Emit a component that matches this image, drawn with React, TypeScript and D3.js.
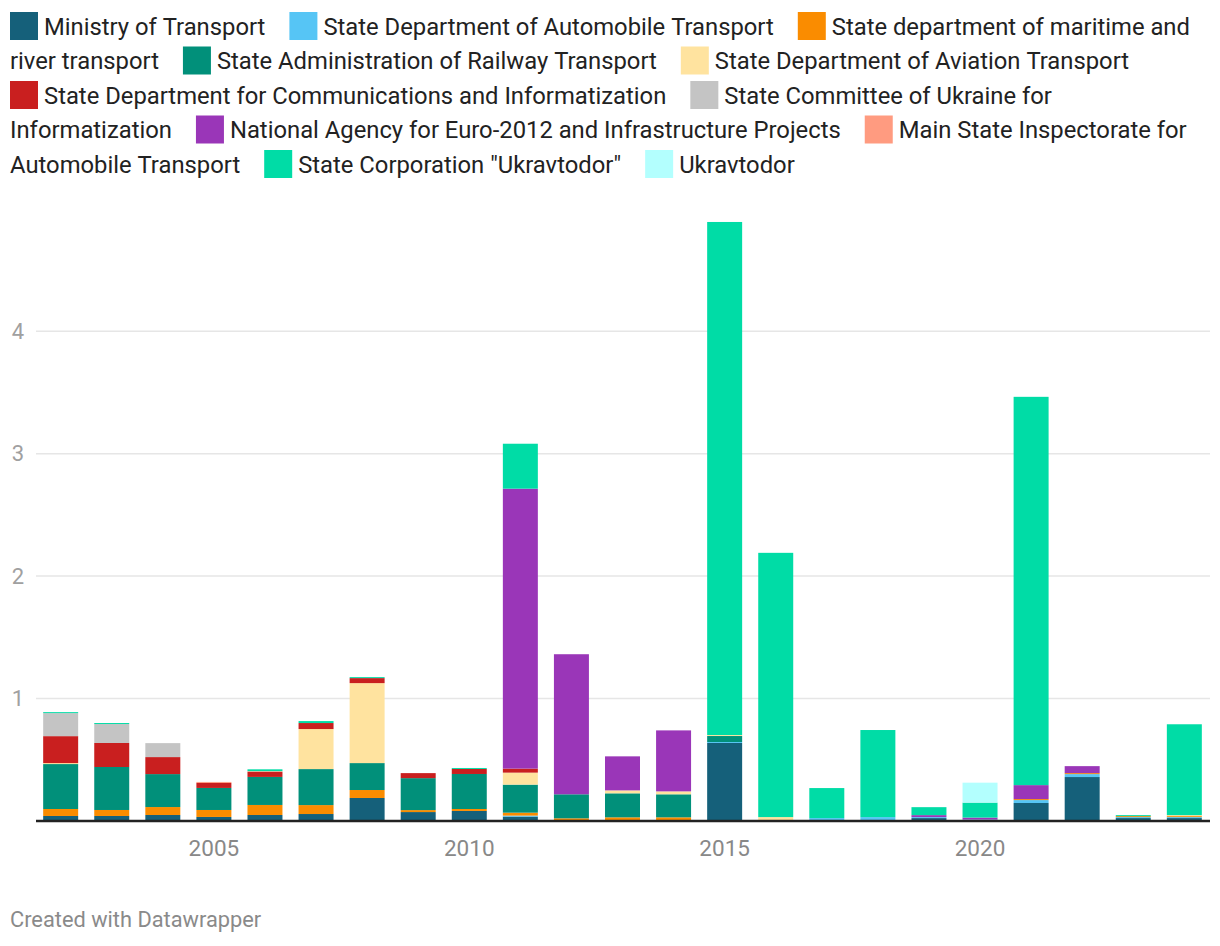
import React from "react";
import * as d3 from "d3";

const years = d3.range(2002, 2025).map(String);

const seriesNames = [
  "Ministry of Transport",
  "State Department of Automobile Transport",
  "State department of maritime and river transport",
  "State Administration of Railway Transport",
  "State Department of Aviation Transport",
  "State Department for Communications and Informatization",
  "State Committee of Ukraine for Informatization",
  "National Agency for Euro-2012 and Infrastructure Projects",
  "Main State Inspectorate for Automobile Transport",
  'State Corporation "Ukravtodor"',
  "Ukravtodor",
];

const seriesColors = [
  "#15607a", "#56c5f5", "#fa8c00", "#01907a", "#ffe39f", "#c91f1f",
  "#c4c4c4", "#9a36b8", "#ff9b80", "#00dca6", "#b3fffe",
];

// values per year 2002..2024
const ministry = [0.041, 0.041, 0.049, 0.033, 0.049, 0.057, 0.188, 0.073, 0.082, 0.036, 0, 0, 0, 0.637, 0, 0, 0.008, 0.024, 0.004, 0.147, 0.359, 0.024, 0.024];
const automobile = [0, 0, 0, 0, 0, 0, 0, 0, 0, 0.008, 0.006, 0.006, 0.006, 0.008, 0.008, 0.024, 0.024, 0.008, 0.008, 0.024, 0.024, 0.008, 0.008];
const maritime = [0.057, 0.049, 0.065, 0.057, 0.082, 0.073, 0.065, 0.016, 0.016, 0.024, 0.016, 0.024, 0.024, 0, 0, 0, 0, 0, 0, 0.008, 0.008, 0.008, 0.008];
const railway = [0.367, 0.351, 0.269, 0.18, 0.229, 0.294, 0.22, 0.261, 0.286, 0.229, 0.196, 0.196, 0.188, 0.049, 0, 0, 0, 0, 0, 0, 0, 0, 0];
const aviation = [0.008, 0, 0, 0, 0, 0.327, 0.653, 0, 0, 0.098, 0, 0.024, 0.024, 0.008, 0.024, 0, 0, 0, 0, 0, 0, 0, 0.008];
const communications = [0.22, 0.196, 0.139, 0.041, 0.041, 0.049, 0.041, 0.041, 0.041, 0.033, 0, 0, 0, 0, 0, 0, 0, 0, 0, 0, 0, 0, 0];
const committee = [0.188, 0.155, 0.114, 0, 0, 0, 0, 0, 0, 0, 0, 0, 0, 0, 0, 0, 0, 0, 0, 0, 0, 0, 0];
const euro2012 = [0, 0, 0, 0, 0, 0, 0, 0, 0, 2.286, 1.144, 0.278, 0.498, 0, 0, 0, 0, 0.016, 0.016, 0.114, 0.057, 0, 0];
const inspectorate = [0, 0, 0, 0.008, 0.006, 0, 0, 0, 0, 0, 0, 0, 0, 0, 0, 0, 0, 0, 0, 0, 0, 0, 0];
const corporation = [0.008, 0.008, 0, 0, 0.015, 0.016, 0.008, 0, 0.008, 0.367, 0, 0, 0, 4.19, 2.158, 0.245, 0.711, 0.065, 0.122, 3.171, 0, 0.008, 0.742];
const ukravtodor = [0, 0, 0, 0, 0, 0, 0, 0, 0, 0, 0, 0, 0, 0, 0, 0, 0, 0, 0.163, 0, 0, 0, 0];

const seriesValues = [ministry, automobile, maritime, railway, aviation, communications, committee, euro2012, inspectorate, corporation, ukravtodor];

const yTicks = [1, 2, 3, 4];
const xTickLabels = ["2005", "2010", "2015", "2020"];

const W = 1220;
const H = 946;
const FONT = "Roboto, 'Noto Sans', sans-serif";
const LEGEND_FS = 23.8;

let ctx: CanvasRenderingContext2D | null = null;
function measure(text: string, size: number): number {
  if (!ctx) {
    const c = document.createElement("canvas");
    ctx = c.getContext("2d");
  }
  if (!ctx) return text.length * size * 0.5;
  ctx.font = `${size}px Roboto`;
  return ctx.measureText(text).width;
}

type LegendPiece =
  | { kind: "swatch"; x: number; line: number; color: string }
  | { kind: "word"; x: number; line: number; text: string };

function layoutLegend(): LegendPiece[] {
  const pieces: LegendPiece[] = [];
  const left = 10;
  const right = 1212;
  const sw = 28;
  const swGap = 6;
  const itemGap = 24;
  const space = measure(" ", LEGEND_FS);
  let x = left;
  let line = 0;
  seriesNames.forEach((name, i) => {
    const words = name.split(" ");
    const w0 = measure(words[0], LEGEND_FS);
    if (x > left && x + sw + swGap + w0 > right) {
      line += 1;
      x = left;
    }
    pieces.push({ kind: "swatch", x, line, color: seriesColors[i] });
    x += sw + swGap;
    words.forEach((w, j) => {
      const ww = measure(w, LEGEND_FS);
      if (j > 0) {
        if (x + space + ww > right) {
          line += 1;
          x = left;
        } else {
          x += space;
        }
      }
      pieces.push({ kind: "word", x, line, text: w });
      x += ww;
    });
    x += itemGap;
  });
  return pieces;
}

export default function App() {
  const rows = years.map((y, i) => {
    const r: Record<string, number | string> = { year: y };
    seriesNames.forEach((n, k) => {
      r[n] = seriesValues[k][i];
    });
    return r;
  });

  const stack = d3.stack<Record<string, number | string>>().keys(seriesNames)
    .value((d, key) => d[key] as number);
  const stacked = stack(rows);

  const x = d3.scaleBand<string>().domain(years).range([35, 1210]).paddingInner(0.315).paddingOuter(0.16);
  const y = d3.scaleLinear().domain([0, 5]).range([821, 821 - 5 * 122.45]);

  const legend = layoutLegend();
  const lineH = 34.5;

  return (
    <svg width={W} height={H} style={{ position: "absolute", left: 0, top: 0, fontFamily: FONT }}>
      <rect width={W} height={H} fill="#fff" />
      {legend.map((p, i) =>
        p.kind === "swatch" ? (
          <rect key={i} x={p.x} y={12 + p.line * lineH} width={28} height={28} fill={p.color} />
        ) : (
          <text key={i} x={p.x} y={34.5 + p.line * lineH} fontSize={LEGEND_FS} fill="#222">
            {p.text}
          </text>
        )
      )}
      {yTicks.map((t) => (
        <g key={t}>
          <line x1={36} x2={1210} y1={y(t)} y2={y(t)} stroke="#e6e6e6" strokeWidth={1.5} />
          <text x={24} y={y(t)} dy="0.35em" textAnchor="end" fontSize={22} fill="#a0a0a0">
            {t}
          </text>
        </g>
      ))}
      {stacked.map((s, k) => (
        <g key={s.key} fill={seriesColors[k]}>
          {s.map((d, i) => {
            const h = y(d[0]) - y(d[1]);
            if (h <= 0) return null;
            return (
              <rect key={i} x={x(years[i])} y={y(d[1])} width={x.bandwidth()} height={h} />
            );
          })}
        </g>
      ))}
      <line x1={36} x2={1210} y1={y(0)} y2={y(0)} stroke="#222" strokeWidth={2.5} />
      {xTickLabels.map((l) => (
        <text key={l} x={(x(l) as number) + x.bandwidth() / 2} y={856} textAnchor="middle" fontSize={22.5} fill="#888">
          {l}
        </text>
      ))}
      <text x={10} y={927} fontSize={21.8} fill="#8a8a8a">
        Created with Datawrapper
      </text>
    </svg>
  );
}
